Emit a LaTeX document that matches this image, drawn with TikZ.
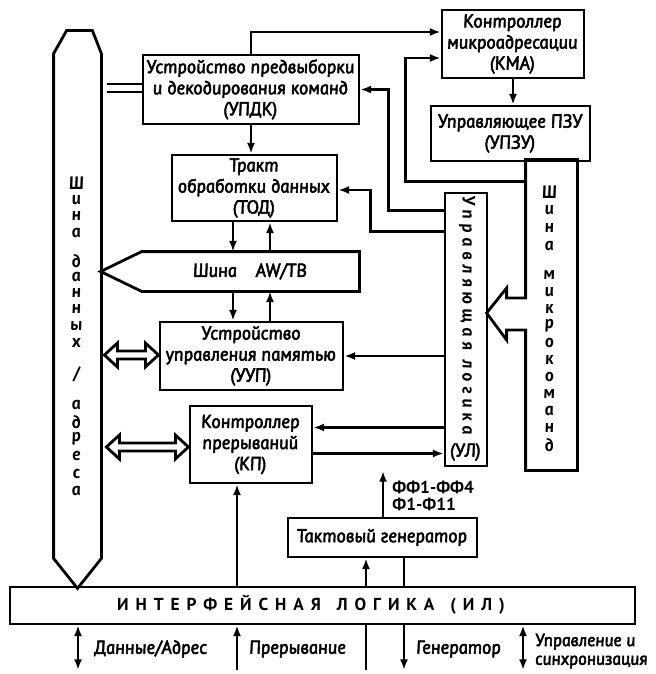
\documentclass[tikz,border=0pt]{standalone}
\usepackage{fontspec}
\setmainfont{PT Sans}[ItalicFeatures={FakeSlant=-0.17, FakeBold=3},
  BoldItalicFeatures={FakeSlant=-0.17}]
\usetikzlibrary{arrows.meta,calc}
% hollow double-headed bus arrow: #1 = left tip, #2 = total length
\newcommand\hollowdbl[2]{%
  \draw (#1) -- ++(13,-12) -- ++(0,8) -- ++(#2-26,0) -- ++(0,-8) -- ++(13,12)
        -- ++(-13,12) -- ++(0,-8) -- ++(26-#2,0) -- ++(0,8) -- cycle;}
\tikzset{
  lbl/.style={font=\fontsize{14}{15.8}\selectfont\itshape},
  sz/.style 2 args={minimum width=#1*0.75pt, minimum height=#2*0.75pt},
  blk/.style={draw, lbl, align=center, inner sep=0pt},
  frame/.style={inner sep=0pt},
  arr/.style={-{Latex[length=8pt,width=6pt]}},
  biarr/.style={{Latex[length=8pt,width=6pt]}-{Latex[length=8pt,width=6pt]}},
  busch/.style={inner sep=0pt, font=\fontsize{13.5}{14}\selectfont\bfseries\itshape},
}

\begin{document}
\begin{tikzpicture}[x=0.75pt, y=-0.75pt, line width=2.1pt, line join=miter]
\useasboundingbox (0,0) rectangle (656,674);

% functional blocks
\node[blk, sz={216}{69}] (updk) at (251,89.5) {Устройство предвыборки\\и декодирования команд\\(УПДК)};
\node[blk, sz={142}{68}] (kma) at (513,44) {Контроллер\\микроадресации\\(КМА)};
\node[blk, sz={159}{55}] (upzu) at (510.5,133.5) {Управляющее ПЗУ\\(УПЗУ)};
\node[blk, sz={165}{66}] (tod) at (254.5,188) {Тракт\\обработки данных\\(ТОД)};
\node[blk, sz={183}{68}] (uup) at (251.5,356) {Устройство\\управления памятью\\(УУП)};
\node[blk, sz={122}{77}] (kp) at (251,444.5) {Контроллер\\прерываний\\(КП)};
\node[draw, frame, sz={42}{273}] (ul) at (466,329.5) {};
\node[rotate=-90, font=\fontsize{13.5}{15}\selectfont\bfseries\itshape\addfontfeature{LetterSpace=26}] (ultext) at (467,316) {Управляющая логика};
\node[lbl] (ulabbr) at (466,452) {(УЛ)};
\node[blk, sz={189}{39}] (tg) at (382.5,537.5) {Тактовый генератор};
\node[draw, frame, sz={625}{37}] (il) at (322.5,605.5) {};
\node[font=\fontsize{13}{15}\selectfont\bfseries\addfontfeature{LetterSpace=40}] (iltext) at (311,605)
  {ИНТЕРФЕЙСНАЯ\hspace{12pt}ЛОГИКА\hspace{12pt}(ИЛ)};

% data/address bus
\node[frame, sz={45}{502}] (db) at (77.5,306) {};
\draw (db.north west) -- ($(db.north west)+(13,-23)$) -- ($(db.north east)+(-9,-23)$)
  -- (db.north east) -- (db.south east) -- ($(db.south)+(0,30)$) -- (db.south west) -- cycle;
\foreach \ch/\yy [count=\k] in {Ш/183, и/200, н/216, а/233, д/261, а/277, н/293, н/309,
    ы/326, х/343, {\slash}/374, а/405, д/422, р/439, е/456, с/474, а/491}
  \node[busch] (dbch\k) at (77,\yy) {\ch};

% AW/TB bus
\node[lbl, frame, sz={215}{37}] (aw) at (250.5,271.5) {Шина\quad AW/TB};
\draw (aw.north west) -- (aw.north east) -- (aw.south east) -- (aw.south west)
  -- ($(aw.west)+(-41,0)$) -- cycle;

% microinstruction bus
\node[frame, sz={49}{308}] (mb) at (551.5,315) {};
\draw (mb.north west) -- (mb.north east) -- (mb.south east) -- (mb.south west)
  -- ($(mb.west)+(0,15)$) -- ($(mb.west)+(-19,15)$) -- ($(mb.west)+(-19,25)$)
  -- ($(mb.west)+(-39,-2)$) -- ($(mb.west)+(-19,-27)$) -- ($(mb.west)+(-19,-17)$)
  -- ($(mb.west)+(0,-17)$) -- cycle;
\foreach \ch/\yy [count=\k] in {Ш/192, и/210, н/228, а/246, м/275, и/292, к/309, р/326,
    о/343, к/360, о/377, м/394, а/411, н/428, д/445}
  \node[busch] (mbch\k) at (550,\yy) {\ch};

% helper positions
\coordinate (xa) at (233,0);
\coordinate (xb) at (270,0);
\coordinate (xc) at (237,0);
\coordinate (xg1) at (366,0);
\coordinate (xg2) at (404,0);
\coordinate (ffTop) at (383,471);
\coordinate (b1) at (78,670);
\coordinate (b2) at (237,670);
\coordinate (b3) at (366,670);
\coordinate (b4) at (404,670);
\coordinate (b5) at (523,670);
\path ($(updk.west)+(0,-5.5)$) coordinate (dl1) ($(updk.west)+(0,2.5)$) coordinate (dl2);
\path ($(kp.east)+(0,-17)$) coordinate (kpIn) ($(kp.east)+(0,9)$) coordinate (kpOut);
\path ($(db.east |- uup.west)+(3,-1)$) coordinate (dA);
\path ($(db.east |- kp.west)+(5,2.5)$) coordinate (dB);

% upper control paths
\draw[arr] (updk.north) |- ($(kma.west)+(0,-12)$);
\draw[arr] (kma.south) -- (kma.south |- upzu.north);
\draw[arr] ($(mb.north west)+(0,22)$) -- ++(-120,0) |- ($(kma.west)+(0,14)$);
\draw[arr] ($(ul.north west)+(0,19)$) -- ++(-55,0) |- (updk.east);
\draw[arr] ($(ul.north west)+(0,40)$) -- ++(-73,0) |- ($(tod.east)+(0,2)$);
\draw[arr] (updk.south) -- (updk.south |- tod.north);

% data bus to prefetch unit
\draw (dl1) -- ($(db.east |- dl1)+(6,0)$);
\draw (dl2) -- ($(db.east |- dl2)+(6,0)$);

% data path connections
\draw[arr] (xa |- tod.south) -- (xa |- aw.north);
\draw[arr] (xb |- aw.north) -- (xb |- tod.south);
\draw[arr] (xa |- aw.south) -- (xa |- uup.north);
\draw[arr] (xb |- uup.north) -- (xb |- aw.south);

% control logic outputs
\draw[arr] (ul.west |- uup.east) -- (uup.east);
\draw[arr] (ul.west |- kpIn) -- (kpIn);
\draw[arr] (kpOut) -- (ul.west |- kpOut);

% bus transfers
\hollowdbl{dA}{54}
\hollowdbl{dB}{82}

% interface logic links
\draw[arr] (xc |- il.north) -- (xc |- kp.south);
\draw[arr] (xg1 |- il.north) -- (xg1 |- tg.south);
\draw (xg2 |- il.north) -- (xg2 |- tg.south);
\draw[arr] (tg.north -| ffTop) -- (ffTop);
\node[anchor=west, align=left, inner sep=0pt, font=\fontsize{13}{12.5}\selectfont\bfseries] (fflab) at (391,496)
  {ФФ1-ФФ4\\Ф1-Ф11};

% external signals
\draw[biarr] (b1 |- il.south) -- (b1);
\draw[arr] (b2) -- (b2 |- il.south);
\draw (b3) -- (b3 |- il.south);
\draw[arr] (b4 |- il.south) -- (b4);
\draw[biarr] (b5 |- il.south) -- (b5);
\node[lbl, anchor=west] (sdata) at (89,649) {Данные/Адрес};
\node[lbl, anchor=west] (sirq) at (244,649) {Прерывание};
\node[lbl, anchor=west] (sclk) at (411,649) {Генератор};
\node[anchor=west, align=left, inner sep=1pt, font=\fontsize{13.2}{14}\selectfont\itshape] (sctl) at (533,651) {Управление и\\синхронизация};
\end{tikzpicture}
\end{document}
